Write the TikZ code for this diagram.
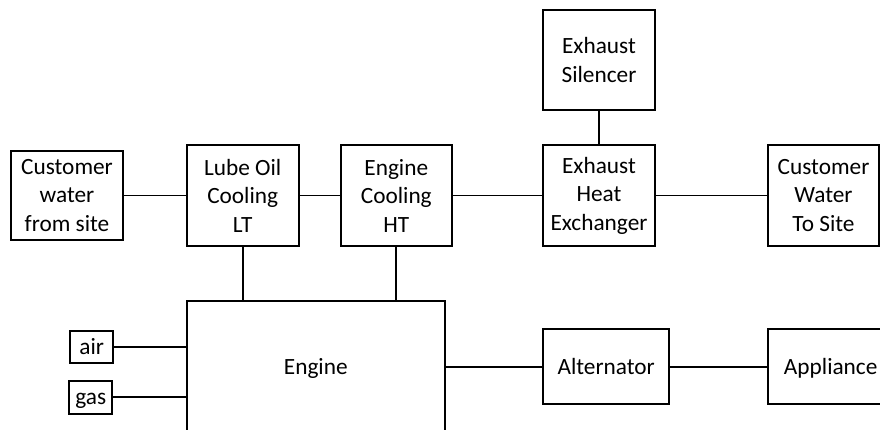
\documentclass[tikz,border=0pt]{standalone}
\usepackage{fontspec}
\setmainfont{Carlito}
\begin{document}
\begin{tikzpicture}[x=1pt,y=-1pt,
  box/.style={draw=black, line width=1.8pt, fill=white, inner sep=0pt, align=center,
    font=\fontsize{23.3}{28.5}\selectfont},
  onebox/.style={draw=black, line width=1.8pt, fill=white, inner sep=0pt,
    font=\fontsize{23.3}{28.5}\selectfont, text height=20pt, text depth=5pt},
  link/.style={draw=black, line width=1.8pt}]
\clip (0,0) rectangle (880,430);
\fill[white] (0,0) rectangle (880,430);
% nodes
\node[box, minimum width=112pt, minimum height=89pt] (cws) at (67,195.5) {Customer\\water\\from site};
\node[box, minimum width=112pt, minimum height=101pt] (lt) at (242.7,195.5) {Lube Oil\\Cooling\\LT};
\node[box, minimum width=111.3pt, minimum height=101pt] (ht) at (396.3,195.5) {Engine\\Cooling\\HT};
\node[box, minimum width=112pt, minimum height=100pt] (sil) at (599,60) {Exhaust\\Silencer};
\node[box, minimum width=112pt, minimum height=101pt] (hx) at (599,195.5) {Exhaust\\Heat\\Exchanger};
\node[box, minimum width=111.5pt, minimum height=101pt] (cwts) at (823.5,195.5) {Customer\\Water\\To Site};
\node[onebox, minimum width=258.3pt, minimum height=132pt] (eng) at (315.8,366.7) {Engine};
\node[onebox, minimum width=43.3pt, minimum height=32pt] (air) at (91.7,346.7) {air};
\node[onebox, minimum width=43.3pt, minimum height=33.3pt] (gas) at (90.7,397.3) {gas};
\node[onebox, minimum width=125.7pt, minimum height=74.7pt] (alt) at (606.2,366.7) {Alternator};
\node[onebox, minimum width=126pt, minimum height=74.7pt] (app) at (830.7,366.7) {Appliance};
% connectors
\draw[link] (cws) -- (lt);
\draw[link] (lt) -- (ht);
\draw[link] (ht) -- (hx);
\draw[link] (hx) -- (cwts);
\draw[link] (sil) -- (hx);
\draw[link] (lt.south) -- (lt.south |- eng.north);
\draw[link] (ht.south) -- (ht.south |- eng.north);
\draw[link] (air) -- (air -| eng.west);
\draw[link] (gas) -- (gas -| eng.west);
\draw[link] (eng) -- (alt);
\draw[link] (alt) -- (app);
\end{tikzpicture}
\end{document}
